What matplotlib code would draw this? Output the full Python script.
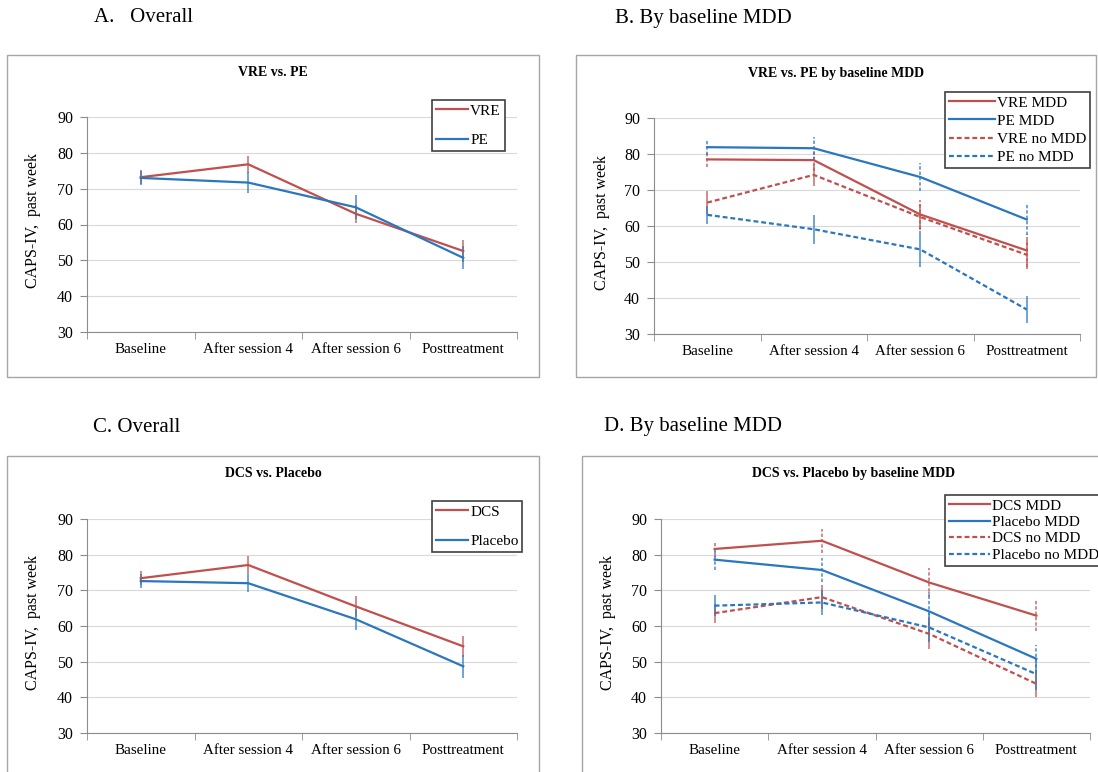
import matplotlib
matplotlib.use('Agg')
import matplotlib.pyplot as plt
from matplotlib.patches import Rectangle
import numpy as np

plt.rcParams['font.family'] = ['Liberation Serif', 'DejaVu Serif']

# data (CAPS-IV, past week; mean and error half-width)
x_labels = ['Baseline', 'After session 4', 'After session 6', 'Posttreatment']

# A. overall, VRE vs PE
vre = [73.2, 76.8, 63.0, 52.6]
vre_err = [2.0, 2.3, 2.5, 3.0]
pe = [73.0, 71.7, 64.8, 50.7]
pe_err = [2.0, 2.9, 3.3, 3.2]

# B. VRE vs PE by baseline MDD
vre_mdd = [78.5, 78.3, 63.2, 53.2]
vre_mdd_err = [2.0, 3.0, 4.0, 4.5]
pe_mdd = [81.9, 81.6, 73.6, 61.8]
pe_mdd_err = [2.2, 3.2, 4.0, 4.2]
vre_nomdd = [66.5, 74.2, 62.5, 52.0]
vre_nomdd_err = [3.2, 3.0, 3.5, 4.0]
pe_nomdd = [63.1, 59.1, 53.5, 36.8]
pe_nomdd_err = [2.5, 4.0, 5.0, 3.7]

# C. overall, DCS vs placebo
dcs = [73.4, 77.1, 65.5, 54.3]
dcs_err = [2.0, 2.4, 3.0, 3.0]
plc = [72.6, 72.0, 61.9, 48.7]
plc_err = [2.0, 2.6, 2.9, 3.2]

# D. DCS vs placebo by baseline MDD
dcs_mdd = [81.6, 83.9, 72.2, 62.9]
dcs_mdd_err = [2.2, 3.3, 4.2, 4.3]
plc_mdd = [78.6, 75.7, 64.1, 50.8]
plc_mdd_err = [2.8, 3.5, 5.5, 4.0]
dcs_nomdd = [63.6, 68.1, 57.8, 43.8]
dcs_nomdd_err = [2.7, 3.4, 4.2, 3.8]
plc_nomdd = [65.7, 66.6, 59.6, 46.5]
plc_nomdd_err = [3.0, 3.6, 4.0, 4.5]

RED = '#C0504D'
BLUE = '#2A77BE'
axis_gray = '#8C8C8C'
DASH = (0, (2.2, 1.3))
x = np.arange(1, 5)

W, H = 1098, 772
fig = plt.figure(figsize=(W / 100, H / 100), dpi=100)


def add_ax(x0, x1, yt, yb):
    return fig.add_axes([x0 / W, 1 - yb / H, (x1 - x0) / W, (yb - yt) / H])


def frame(x0, x1, yt, yb):
    fig.patches.append(Rectangle((x0 / W, 1 - yb / H), (x1 - x0) / W, (yb - yt) / H,
                                 transform=fig.transFigure, fill=False,
                                 edgecolor='#A6A6A6', lw=1.0))


def style_axes(ax):
    ax.set_xlim(0.5, 4.5)
    ax.set_ylim(30, 90)
    ax.set_yticks(range(30, 91, 10))
    ax.set_xticks(x)
    ax.set_xticklabels(x_labels)
    ax.set_xticks(np.arange(0.5, 4.6, 1), minor=True)
    ax.tick_params(axis='x', which='major', length=0, pad=8, labelsize=10.8)
    ax.tick_params(axis='x', which='minor', length=5, color=axis_gray, direction='out')
    ax.tick_params(axis='y', length=5, color=axis_gray, pad=5, labelsize=11.5)
    for s in ['top', 'right']:
        ax.spines[s].set_visible(False)
    ax.spines['left'].set_color(axis_gray)
    ax.spines['bottom'].set_color(axis_gray)
    ax.grid(axis='y', color='#D9D9D9', lw=0.8)
    ax.set_axisbelow(True)


def draw(ax, series):
    handles = []
    for m, e, c, ls, els, lab in series:
        ln, = ax.plot(x, m, color=c, ls=ls, lw=1.6, label=lab, zorder=3)
        eb = ax.errorbar(x, m, yerr=e, fmt='none', ecolor=c, elinewidth=1.1,
                         capsize=0, alpha=0.85, zorder=2)
        eb[2][0].set_linestyle(els)
        handles.append(ln)
    return handles


def legend(ax, handles, x0, y0, spacing, hlen):
    leg = ax.legend(handles=handles, loc='upper left', bbox_to_anchor=(x0 / W, 1 - y0 / H),
                    bbox_transform=fig.transFigure, fontsize=11, frameon=True,
                    fancybox=False, framealpha=1, edgecolor='#404040',
                    labelspacing=spacing, handlelength=hlen, handletextpad=0.15,
                    borderpad=0.25, borderaxespad=0)
    leg.get_frame().set_linewidth(1.2)


# frames
frame(7, 539, 55, 377)
frame(576, 1096, 55, 377)
frame(7, 539, 456, 776)
frame(582, 1102, 456, 776)

# panel labels
fig.text(94 / W, 1 - 18 / H, 'A.   Overall', fontsize=15, va='center', ha='left')
fig.text(615 / W, 1 - 18 / H, 'B. By baseline MDD', fontsize=15, va='center', ha='left')
fig.text(93 / W, 1 - 427 / H, 'C. Overall', fontsize=15, va='center', ha='left')
fig.text(604 / W, 1 - 427 / H, 'D. By baseline MDD', fontsize=15, va='center', ha='left')

ylab = 'CAPS-IV,  past week'

# A
axA = add_ax(87, 517, 117, 332)
style_axes(axA)
h = draw(axA, [(vre, vre_err, RED, '-', '-', 'VRE'),
               (pe, pe_err, BLUE, '-', '-', 'PE')])
legend(axA, h, 432, 100, 1.05, 2.1)
fig.text(273 / W, 1 - 73 / H, 'VRE vs. PE', fontsize=10, fontweight='bold', ha='center', va='center')
fig.text(33 / W, 1 - 220 / H, ylab, fontsize=11.5, rotation=90, ha='center', va='center')

# B
axB = add_ax(654, 1080, 118, 334)
style_axes(axB)
h = draw(axB, [(vre_mdd, vre_mdd_err, RED, '-', DASH, 'VRE MDD'),
               (pe_mdd, pe_mdd_err, BLUE, '-', DASH, 'PE MDD'),
               (vre_nomdd, vre_nomdd_err, RED, DASH, '-', 'VRE no MDD'),
               (pe_nomdd, pe_nomdd_err, BLUE, DASH, '-', 'PE no MDD')])
legend(axB, h, 945, 92, 0.3, 3.0)
fig.text(836 / W, 1 - 73 / H, 'VRE vs. PE by baseline MDD', fontsize=10, fontweight='bold',
         ha='center', va='center')
fig.text(602 / W, 1 - 222 / H, ylab, fontsize=11.5, rotation=90, ha='center', va='center')

# C
axC = add_ax(87, 517, 519, 733)
style_axes(axC)
h = draw(axC, [(dcs, dcs_err, RED, '-', '-', 'DCS'),
               (plc, plc_err, BLUE, '-', '-', 'Placebo')])
legend(axC, h, 432, 501, 1.05, 2.1)
fig.text(273 / W, 1 - 474 / H, 'DCS vs. Placebo', fontsize=10, fontweight='bold', ha='center', va='center')
fig.text(33 / W, 1 - 622 / H, ylab, fontsize=11.5, rotation=90, ha='center', va='center')

# D
axD = add_ax(661, 1090, 519, 733)
style_axes(axD)
h = draw(axD, [(dcs_mdd, dcs_mdd_err, RED, '-', DASH, 'DCS MDD'),
               (plc_mdd, plc_mdd_err, BLUE, '-', DASH, 'Placebo MDD'),
               (dcs_nomdd, dcs_nomdd_err, RED, DASH, '-', 'DCS no MDD'),
               (plc_nomdd, plc_nomdd_err, BLUE, DASH, '-', 'Placebo no MDD')])
legend(axD, h, 945, 495, 0.18, 2.7)
fig.text(853 / W, 1 - 474 / H, 'DCS vs. Placebo by baseline MDD', fontsize=10, fontweight='bold',
         ha='center', va='center')
fig.text(608 / W, 1 - 622 / H, ylab, fontsize=11.5, rotation=90, ha='center', va='center')

fig.savefig('out.png', dpi=100)
